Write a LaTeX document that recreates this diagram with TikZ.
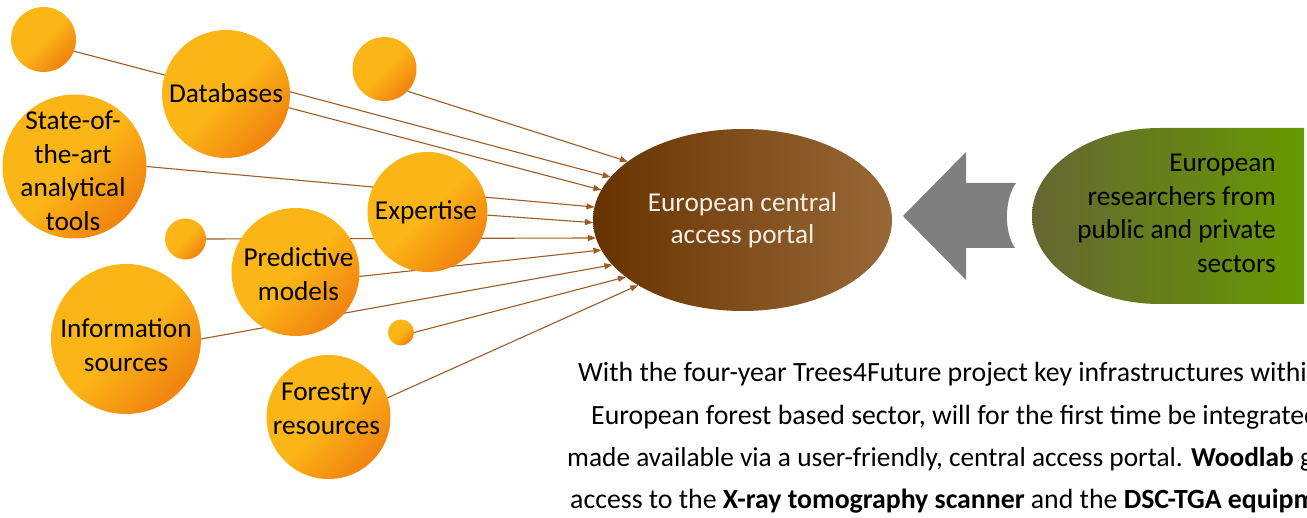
\documentclass[tikz,border=0pt]{standalone}
\usepackage{fontspec}
\setmainfont{Carlito}
\usetikzlibrary{shapes.geometric,arrows.meta,backgrounds}
\definecolor{oL}{HTML}{FCB516}
\definecolor{oD}{HTML}{F28610}
\definecolor{ln}{HTML}{9E5B24}
\definecolor{brL}{HTML}{663300}
\definecolor{brR}{HTML}{9A6837}
\definecolor{gL}{HTML}{666633}
\definecolor{gR}{HTML}{669900}
\definecolor{gy}{HTML}{7F7F7F}
\definecolor{ptxt}{HTML}{F3EEE8}
\pgfdeclareverticalshading{orbshade}{100bp}{color(0bp)=(oD); color(27bp)=(oD); color(50bp)=(oL); color(100bp)=(oL)}
\newcommand\bigfnt{\fontsize{27.3}{33.5}\selectfont}
\newcommand\parafnt{\fontsize{27.8}{33.5}\selectfont}
\newcommand\parafntb{\fontsize{27.35}{33.5}\selectfont}
\tikzset{
  orb/.style={circle, inner sep=0pt, outer sep=0pt, shading=orbshade, shading angle=45},
  lbl/.style={text=black, align=center, font=\bigfnt, inner sep=0pt},
  conn/.style={draw=ln, line width=1.1pt, -{Triangle[length=8pt,width=6pt]}},
  para/.style={text=black, font=\parafnt, inner sep=0pt, anchor=base west},
}
\begin{document}
\begin{tikzpicture}[x=1pt,y=-1pt]
\useasboundingbox (0,0) rectangle (1307,518);
% circles
\node[orb, minimum size=65pt]  (c1) at (43.5,39.5) {};
\node[orb, minimum size=128pt] (db) at (226,94) {};
\node[orb, minimum size=64pt]  (c3) at (384.5,69) {};
\node[orb, minimum size=144pt] (st) at (74.5,166.5) {};
\node[orb, minimum size=120pt] (ex) at (427.5,212) {};
\node[orb, minimum size=41pt]  (c6) at (185.5,239) {};
\node[orb, minimum size=128pt] (pm) at (295.5,272) {};
\node[orb, minimum size=150pt] (is) at (126,339) {};
\node[orb, minimum size=26pt]  (c9) at (401,332.5) {};
\node[orb, minimum size=124pt] (fr) at (328.5,417) {};
% labels
\node[lbl] (dbT) at (226,93) {Databases};
\node[lbl] (stT) at (73,170.5) {State-of-\\the-art\\analytical\\tools};
\node[lbl] (exT) at (426,212) {Expertise};
\node[lbl] (pmT) at (298.5,274) {Predictive\\models};
\node[lbl] (isT) at (126,345) {Information\\sources};
\node[lbl] (frT) at (326.5,409) {Forestry\\resources};
% portal
\node[ellipse, minimum width=299pt, minimum height=182pt, inner sep=0pt, outer sep=0pt,
      left color=brL, right color=brR, text=ptxt, align=center,
      font=\fontsize{27.3}{32.5}\selectfont] (portal) at (742.5,220) {European central\\access portal};
% researchers shape
\shade[left color=gL, right color=gR] (1304,128) -- (1160,128)
   arc[start angle=270, end angle=90, x radius=128, y radius=88] -- (1304,304) -- cycle;
\node[lbl, align=right, anchor=east] (res) at (1276,213.5) {European\\researchers from\\public and private\\sectors};
% block arrow
\coordinate (btip) at (903,216);
\fill[gy] (btip) -- (966,152) -- (966,183) -- (1016,183)
   .. controls (1004,200) and (1004,232) .. (1015,248) -- (966,248) -- (966,280) -- cycle;
% connectors
\begin{pgfonlayer}{background}
\draw[conn] (c3.-44) -- (portal.153);
\draw[conn] (db.2) -- (portal.162);
\draw[conn] (c1.-21) -- (portal.168);
\draw[conn] (st.0) -- (portal.175);
\draw[conn] (ex.-3) -- (portal.181);
\draw[conn] (c6.0) -- (portal.187);
\draw[conn] (pm.-4) -- (portal.192);
\draw[conn] (is.0) -- (portal.199);
\draw[conn] (c9.0) -- (portal.206);
\draw[conn] (fr.18) -- (portal.212);
\end{pgfonlayer}
% paragraph
\begin{scope}
\clip (0,0) rectangle (1307,518);
\node[para] (t1) at (578,382) {With the four-year Trees4Future project key infrastructures within};
\node[para] (t2) at (591,424.5) {European forest based sector, will for the first time be integrated};
\node[para, font=\parafntb] (t3) at (567,466.5) {made available via a user-friendly, central access portal. \textbf{Woodlab} g};
\node[para] (t4) at (570,508.5) {access to the \textbf{X-ray tomography scanner} and the \textbf{DSC-TGA equipment}};
\end{scope}
\end{tikzpicture}
\end{document}
